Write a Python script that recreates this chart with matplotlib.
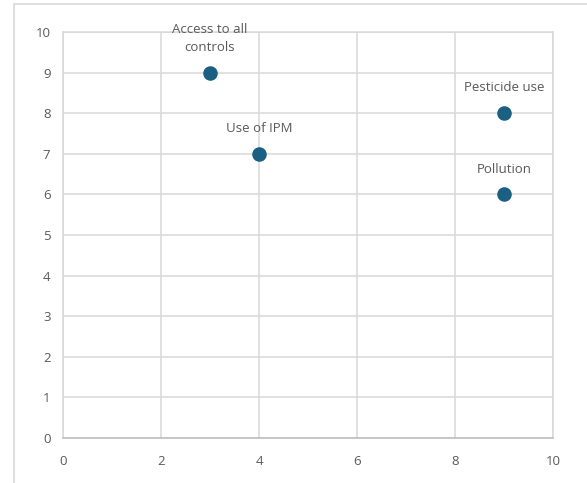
import matplotlib.pyplot as plt
from matplotlib.patches import Rectangle

# scatter of issues, with a name above each point
names = ["Access to all\ncontrols", "Use of IPM", "Pesticide use", "Pollution"]
x_vals = [3, 4, 9, 9]
y_vals = [9, 7, 8, 6]

plt.rcParams['font.family'] = ['Open Sans', 'DejaVu Sans']
text_col = '#595959'
grid_col = '#d9d9d9'
dot_col = '#1b5f82'

fig = plt.figure(figsize=(5.87, 4.83), dpi=100)
ax = fig.add_axes([63 / 587, 1 - 438 / 483, 490 / 587, 406 / 483])

# chart frame, cut off at the right and bottom
fig.patches.append(Rectangle((14 / 587, -0.1), 1.2, 1.1 - 4 / 483, transform=fig.transFigure,
                             fill=False, edgecolor=grid_col, linewidth=1.2, zorder=0))

ax.scatter(x_vals, y_vals, s=110, color=dot_col, zorder=3, linewidths=0)
for name, x, y in zip(names, x_vals, y_vals):
    ax.annotate(name, (x, y), xytext=(0, 13.5), textcoords='offset points',
                ha='center', va='bottom', fontsize=9.5, color=text_col,
                linespacing=1.5)

ax.set_xlim(0, 10)
ax.set_ylim(0, 10)
ax.set_xticks(range(0, 11, 2))
ax.set_yticks(range(0, 11))
ax.grid(True, color=grid_col, linewidth=1.1)
ax.set_axisbelow(True)
for side in ['top', 'right', 'left']:
    ax.spines[side].set_color(grid_col)
    ax.spines[side].set_linewidth(1.1)
ax.spines['bottom'].set_color('#bfbfbf')
ax.spines['bottom'].set_linewidth(1.2)
ax.tick_params(length=0, labelsize=9.5, labelcolor=text_col)
ax.tick_params(axis='y', pad=9)
ax.tick_params(axis='x', pad=12)

fig.savefig('out.png', dpi=100)
